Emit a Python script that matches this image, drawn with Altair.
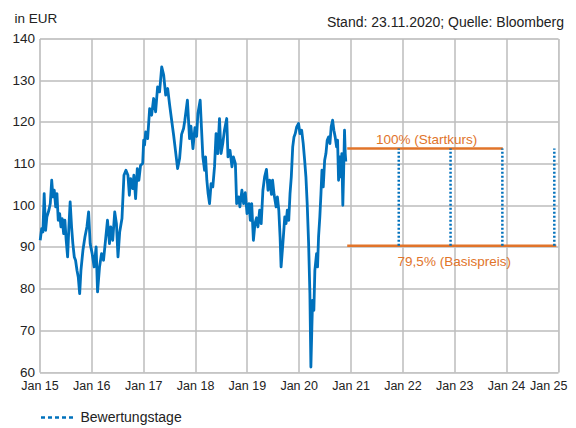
import altair as alt
import pandas as pd

# ---------------- data ----------------
price_dates = [
    "2015-01-06", "2015-01-16", "2015-01-25", "2015-02-03", "2015-02-13", "2015-02-22",
    "2015-03-08", "2015-03-18", "2015-03-28", "2015-04-06", "2015-04-15", "2015-04-25",
    "2015-05-04", "2015-05-13", "2015-05-23", "2015-06-01", "2015-06-10", "2015-06-20",
    "2015-06-29", "2015-07-08", "2015-07-18", "2015-07-27", "2015-08-05", "2015-08-15",
    "2015-08-24", "2015-09-03", "2015-09-12", "2015-09-22", "2015-10-01", "2015-10-11",
    "2015-10-20", "2015-11-03", "2015-11-17", "2015-12-01", "2015-12-13", "2015-12-24",
    "2016-01-07", "2016-01-21", "2016-02-04", "2016-02-14", "2016-02-28", "2016-03-13",
    "2016-03-27", "2016-04-10", "2016-04-24", "2016-05-08", "2016-05-17", "2016-05-31",
    "2016-06-14", "2016-06-26", "2016-07-07", "2016-07-19", "2016-08-04", "2016-08-18",
    "2016-09-01", "2016-09-15", "2016-09-25", "2016-10-04", "2016-10-18", "2016-10-27",
    "2016-11-08", "2016-11-20", "2016-12-01", "2016-12-13", "2016-12-28", "2017-01-04",
    "2017-01-10", "2017-01-18", "2017-02-01", "2017-02-15", "2017-03-01", "2017-03-15",
    "2017-03-29", "2017-04-12", "2017-04-26", "2017-05-11", "2017-05-25", "2017-06-08",
    "2017-06-22", "2017-07-06", "2017-07-20", "2017-08-03", "2017-08-17", "2017-08-31",
    "2017-09-14", "2017-09-28", "2017-10-12", "2017-10-21", "2017-11-08", "2017-11-23",
    "2017-12-03", "2017-12-17", "2017-12-31", "2018-01-12", "2018-01-21", "2018-02-06",
    "2018-02-16", "2018-02-25", "2018-03-09", "2018-03-16", "2018-03-25", "2018-04-03",
    "2018-04-13", "2018-04-24", "2018-05-06", "2018-05-18", "2018-05-29", "2018-06-10",
    "2018-06-22", "2018-07-03", "2018-07-15", "2018-07-27", "2018-08-12", "2018-08-21",
    "2018-09-04", "2018-09-18", "2018-09-28", "2018-10-12", "2018-10-21", "2018-11-04",
    "2018-11-13", "2018-11-27", "2018-12-09", "2018-12-21", "2019-01-02", "2019-01-16",
    "2019-01-25", "2019-02-04", "2019-02-16", "2019-02-27", "2019-03-10", "2019-03-20",
    "2019-04-01", "2019-04-12", "2019-04-24", "2019-05-06", "2019-05-19", "2019-05-30",
    "2019-06-11", "2019-06-23", "2019-07-01", "2019-07-12", "2019-07-26", "2019-08-04",
    "2019-08-14", "2019-08-23", "2019-08-30", "2019-09-08", "2019-09-15", "2019-09-25",
    "2019-10-04", "2019-10-13", "2019-10-23", "2019-11-01", "2019-11-10", "2019-11-20",
    "2019-11-29", "2019-12-08", "2019-12-18", "2019-12-31", "2020-01-10", "2020-01-22",
    "2020-02-02", "2020-02-12", "2020-02-21", "2020-03-01", "2020-03-11", "2020-03-20",
    "2020-03-27", "2020-04-03", "2020-04-08", "2020-04-17", "2020-04-24", "2020-05-06",
    "2020-05-13", "2020-05-20", "2020-05-29", "2020-06-06", "2020-06-13", "2020-06-22",
    "2020-07-02", "2020-07-11", "2020-07-20", "2020-07-30", "2020-08-08", "2020-08-17",
    "2020-08-27", "2020-09-05", "2020-09-14", "2020-09-24", "2020-10-01", "2020-10-08",
    "2020-10-17", "2020-10-24", "2020-10-31", "2020-11-07", "2020-11-13", "2020-11-19",
    "2020-11-24", "2020-11-28",
]
price_values = [
    91.6, 94.4, 93.6, 102.8, 94.0, 97.2,
    98.8, 100.4, 106.0, 102.0, 103.6, 99.6,
    102.8, 96.4, 98.0, 94.8, 96.8, 93.2,
    96.4, 91.6, 87.6, 94.8, 100.8, 94.8,
    90.8, 87.6, 86.8, 84.4, 82.8, 78.8,
    84.4, 89.2, 92.4, 94.8, 98.4, 90.8,
    88.4, 85.2, 90.0, 79.2, 85.2, 88.4,
    86.8, 91.6, 96.4, 90.8, 94.8, 91.6,
    98.4, 95.6, 87.6, 93.6, 96.8, 107.2,
    108.4, 107.2, 102.4, 106.4, 104.0, 107.2,
    101.6, 108.8, 106.0, 109.6, 110.0, 115.6,
    114.4, 117.6, 116.0, 123.2, 121.6, 125.6,
    122.4, 128.4, 127.2, 133.2, 131.2, 126.4,
    128.0, 124.0, 120.4, 116.8, 112.8, 108.8,
    111.2, 117.0, 118.4, 120.4, 125.2, 116.0,
    119.0, 113.6, 118.6, 116.5, 122.0, 125.2,
    118.0, 111.6, 108.4, 111.6, 106.0, 102.8,
    100.4, 105.2, 104.4, 109.2, 117.2, 112.4,
    120.8, 112.4, 114.8, 118.0, 120.8, 111.6,
    113.2, 109.2, 111.6, 110.0, 100.4, 102.0,
    99.6, 103.6, 100.4, 103.0, 98.0, 100.4,
    96.4, 100.4, 91.6, 95.6, 97.0, 94.8,
    98.8, 95.6, 103.6, 106.8, 108.6, 103.6,
    106.0, 102.6, 106.0, 102.5, 99.6, 102.0,
    98.8, 92.4, 85.2, 89.2, 92.4, 97.2,
    95.6, 98.8, 96.4, 102.8, 106.8, 114.0,
    116.4, 117.2, 118.8, 119.6, 117.2, 118.0,
    114.8, 110.8, 106.8, 100.4, 90.8, 78.8,
    61.2, 70.8, 77.2, 74.8, 84.4, 88.4,
    85.2, 92.4, 97.2, 102.8, 108.4, 104.4,
    110.8, 112.4, 115.6, 116.4, 114.8, 118.8,
    120.4, 118.0, 116.4, 114.0, 115.6, 106.0,
    111.6, 106.8, 112.4, 100.0, 108.4, 118.0,
    112.4, 110.5,
]

valuation_dates = ["2021-12-06", "2022-12-06", "2023-12-06", "2024-12-06"]
valuation_name = "Bewertungstage"

start_level = 113.6      # 100 % (Startkurs)
barrier_level = 90.3     # 79,5 % (Basispreis)
levels_start_date = "2020-12-08"
start_line_end = "2023-12-09"
barrier_line_end = "2024-12-20"

label_texts = ["100% (Startkurs)", "79,5% (Basispreis)"]
label_dates = ["2022-06-21", "2023-01-01"]

source_text = "Stand: 23.11.2020; Quelle: Bloomberg"
unit_text = "in EUR"

year_ticks = list(range(2015, 2026))
y_ticks = [60, 70, 80, 90, 100, 110, 120, 130, 140]

# ---------------- style ----------------
BLUE = "#0071BC"
ORANGE = "#E1742A"
GRID = "#BDBDBD"
TEXT = "#222222"
FONT = "Liberation Sans"
W, H = 518.5, 333.5

x_scale = alt.Scale(
    type="utc",
    domain=[alt.DateTime(year=2015, month=1, date=1, utc=True),
            alt.DateTime(year=2025, month=1, date=1, utc=True)],
)
y_scale = alt.Scale(domain=[60, 140], nice=False, zero=False)

last_tick = "utcyear(datum.value) == %d" % year_ticks[-1]

x_axis = alt.Axis(
    title=None,
    values=[alt.DateTime(year=y, month=1, date=1, utc=True) for y in year_ticks],
    labelExpr="utcFormat(datum.value, '%b %y')",
    grid=True,
    gridColor=GRID,
    gridWidth=1.5,
    domain=False,
    ticks=False,
    labelFlush=False,
    labelOverlap=False,
    labelPadding=7,
    labelFont=FONT,
    labelFontSize=12.5,
    labelColor=TEXT,
    labelAlign={"condition": {"test": last_tick, "value": "right"}, "value": "center"},
    labelOffset={"condition": {"test": last_tick, "value": 9}, "value": 0},
)
y_axis = alt.Axis(
    title=unit_text,
    titleAngle=0,
    titleAlign="left",
    titleBaseline="alphabetic",
    titleX=-25.5,
    titleY=-16,
    titleFont=FONT,
    titleFontSize=13.5,
    titleFontWeight="normal",
    titleColor=TEXT,
    values=y_ticks,
    grid=True,
    gridColor=GRID,
    gridWidth=1.5,
    domain=False,
    ticks=False,
    labelPadding=5,
    labelFont=FONT,
    labelFontSize=13.5,
    labelColor=TEXT,
)

price_df = pd.DataFrame({"date": price_dates, "value": price_values})
levels_df = pd.DataFrame({
    "start": [levels_start_date, levels_start_date],
    "end": [start_line_end, barrier_line_end],
    "level": [start_level, barrier_level],
})
val_df = pd.DataFrame({
    "date": valuation_dates,
    "low": [barrier_level] * len(valuation_dates),
    "high": [start_level] * len(valuation_dates),
    "name": [valuation_name] * len(valuation_dates),
})
lab_top_df = pd.DataFrame({"date": [label_dates[0]], "level": [start_level], "text": [label_texts[0]]})
lab_bot_df = pd.DataFrame({"date": [label_dates[1]], "level": [barrier_level], "text": [label_texts[1]]})
source_df = pd.DataFrame({"text": [source_text]})

line = alt.Chart(price_df).mark_line(
    color=BLUE, strokeWidth=2.8, strokeJoin="round"
).encode(
    x=alt.X("date:T", scale=x_scale, axis=x_axis),
    y=alt.Y("value:Q", scale=y_scale, axis=y_axis),
)

level_rules = alt.Chart(levels_df).mark_rule(color=ORANGE, strokeWidth=2.6).encode(
    x=alt.X("start:T", scale=x_scale),
    x2="end:T",
    y=alt.Y("level:Q", scale=y_scale),
)

val_rules = alt.Chart(val_df).mark_rule(strokeWidth=2.5, strokeDash=[2, 2]).encode(
    x=alt.X("date:T", scale=x_scale),
    y=alt.Y("low:Q", scale=y_scale),
    y2="high:Q",
    color=alt.Color(
        "name:N",
        scale=alt.Scale(range=[BLUE]),
        legend=alt.Legend(
            title=None,
            orient="none",
            legendX=0,
            legendY=361,
            symbolType="stroke",
            symbolSize=1089,
            symbolStrokeWidth=2.5,
            symbolDash=[4, 3],
            symbolStrokeColor=BLUE,
            labelFont=FONT,
            labelFontSize=14,
            labelColor=TEXT,
            labelOffset=5,
            padding=0,
        ),
    ),
)

lab_top = alt.Chart(lab_top_df).mark_text(
    color=ORANGE, font=FONT, fontSize=13.5, baseline="alphabetic", dy=-5
).encode(x=alt.X("date:T", scale=x_scale), y=alt.Y("level:Q", scale=y_scale), text="text:N")

lab_bot = alt.Chart(lab_bot_df).mark_text(
    color=ORANGE, font=FONT, fontSize=13.5, baseline="alphabetic", dy=20
).encode(x=alt.X("date:T", scale=x_scale), y=alt.Y("level:Q", scale=y_scale), text="text:N")

source = alt.Chart(source_df).mark_text(
    color=TEXT, font=FONT, fontSize=14, align="right", baseline="alphabetic"
).encode(x=alt.value(W + 6), y=alt.value(-11.5), text="text:N")

chart = alt.layer(line, level_rules, val_rules, lab_top, lab_bot, source).properties(
    width=W,
    height=H,
    autosize=alt.AutoSizeParams(type="none"),
    padding={"left": 31.5, "top": 30.5, "right": 10, "bottom": 56},
).configure_view(stroke=None).configure(background="white")

chart.save("out.html", embed_options={"renderer": "svg", "actions": False})
